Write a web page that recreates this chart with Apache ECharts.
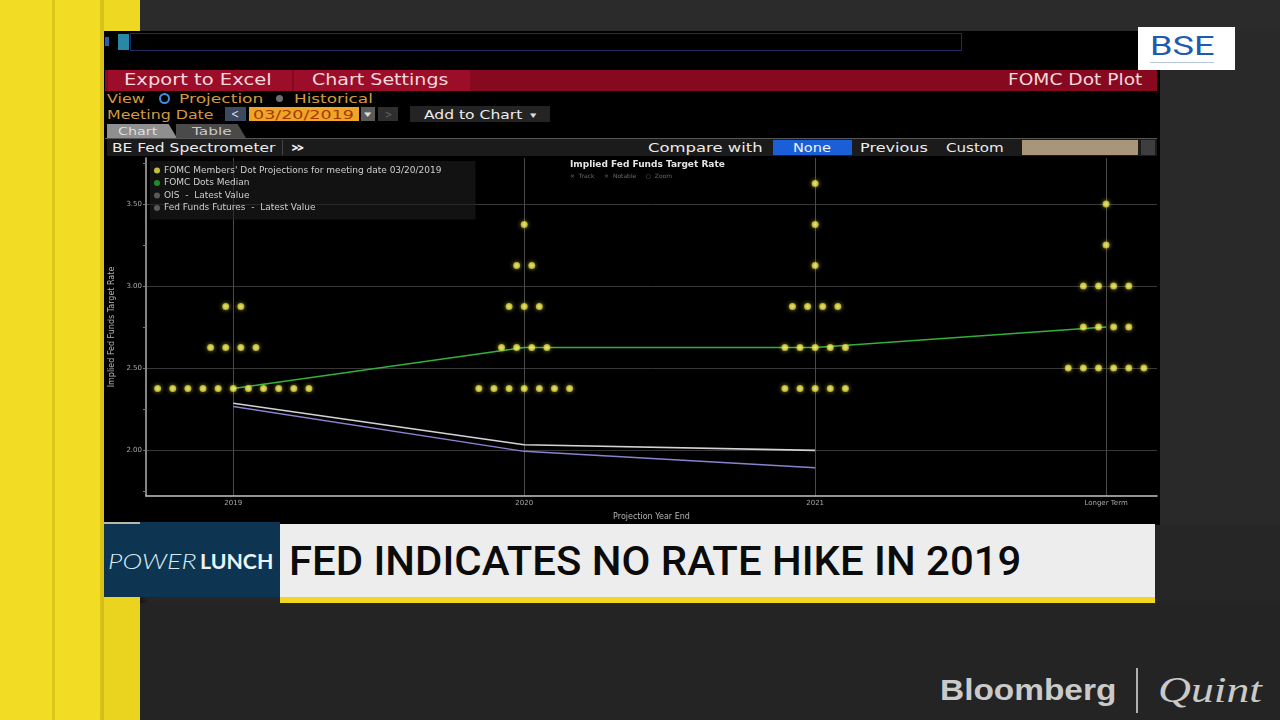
<!DOCTYPE html>
<html><head><meta charset="utf-8">
<script src="https://cdn.jsdelivr.net/npm/echarts@6/dist/echarts.min.js"></script>
<style>
html,body{margin:0;padding:0;width:1280px;height:720px;overflow:hidden;background:#262626;font-family:"DejaVu Sans",sans-serif;}
.r{position:absolute;}
.t{position:absolute;white-space:nowrap;transform-origin:0 50%;line-height:1;}
#chart{position:absolute;left:105px;top:156px;width:1055px;height:369px;background:#000;z-index:10;}
</style></head><body>
<div id="chart"></div>
<script>
// ---------------- DATA ----------------
const categories = ['2019', '2020', '2021', 'Longer Term'];
const rates2019 = [2.375, 2.625, 2.875];
const counts2019 = [11, 4, 2];
const rates2020 = [2.375, 2.625, 2.875, 3.125, 3.375];
const counts2020 = [7, 4, 3, 2, 1];
const rates2021 = [2.375, 2.625, 2.875, 3.125, 3.375, 3.625];
const counts2021 = [5, 5, 4, 1, 1, 1];
const ratesLonger = [2.5, 2.75, 3.0, 3.25, 3.5];
const countsLonger = [6, 4, 4, 1, 1];
const medianRates = [2.375, 2.625, 2.625, 2.75];
const oisRates = [2.285, 2.032, 1.998];
const futuresRates = [2.266, 1.992, 1.892];
const yLabelValues = [2.0, 2.5, 3.0, 3.5];
const yMinorTickValues = [1.75, 2.0, 2.25, 2.5, 2.75, 3.0, 3.25, 3.5, 3.75];
const xTickValues = [0, 1, 2, 3];

const dotsName = "FOMC Members' Dot Projections for meeting date 03/20/2019";
const medianName = 'FOMC Dots Median';
const oisName = 'OIS  -  Latest Value';
const futName = 'Fed Funds Futures  -  Latest Value';

// ---------------- FRAME (HTML chrome) ----------------
const FONT = '"DejaVu Sans", sans-serif';
function R(x, y, w, h, bg, extra) {
  const d = document.createElement('div');
  d.className = 'r';
  d.style.left = x + 'px'; d.style.top = y + 'px';
  d.style.width = w + 'px'; d.style.height = h + 'px';
  d.style.background = bg;
  if (extra) Object.assign(d.style, extra);
  document.body.appendChild(d);
  return d;
}
function T(txt, x, yc, w, size, color, o) {
  o = o || {};
  const d = document.createElement('div');
  d.className = 't';
  d.textContent = txt;
  d.style.fontSize = size + 'px';
  d.style.color = color;
  d.style.fontFamily = o.family || FONT;
  if (o.weight) d.style.fontWeight = o.weight;
  if (o.italic) d.style.fontStyle = 'italic';
  document.body.appendChild(d);
  const h = d.offsetHeight, ww = d.offsetWidth;
  d.style.left = x + 'px';
  d.style.top = (yc - h / 2) + 'px';
  if (w) d.style.transform = 'scaleX(' + (w / ww) + ')';
  return d;
}

// yellow side bands
R(0, 0, 104, 720, '#f3dd24');
R(52, 0, 3, 720, '#dcc61c');
R(100, 0, 5, 720, '#d9c31a');
R(104, 0, 36, 31, '#efd822');
R(104, 597, 36, 123, '#ead41f', {boxShadow: '4px 0 6px rgba(0,0,0,0.5)'});
// dark surroundings
R(140, 0, 1140, 31, '#2b2b2b');
R(1160, 31, 120, 494, '#292929');
R(140, 603, 1140, 117, '#242424');
// terminal
R(104, 31, 1056, 494, '#000');
R(130, 33, 830, 16, 'transparent', {border: '1px solid #1d2d62'});
R(118, 34, 11, 16, '#2a87a6');
R(105, 37, 4, 9, '#2a5fa0');
// red toolbar
R(105, 70, 1052, 21, '#870920');
R(108, 70, 184, 21, '#9c0d29');
R(294, 70, 176, 21, '#9c0d29');
T('Export to Excel', 124, 80.5, 147, 15, '#f3d8dc');
T('Chart Settings', 312, 80.5, 137, 15, '#f3d8dc');
T('FOMC Dot Plot', 1008, 80.5, 134, 15, '#f3d8dc');
// view row
T('View', 107, 98.5, 38, 13, '#d49a40');
R(159, 93, 7, 7, 'transparent', {border: '2px solid #3b8fe6', borderRadius: '50%'});
T('Projection', 179, 98.5, 84, 13, '#d49a40');
R(276, 95, 7, 7, '#6d6d6d', {borderRadius: '50%'});
T('Historical', 294, 98.5, 79, 13, '#d49a40');
// meeting date row
T('Meeting Date', 107, 114.5, 107, 13, '#d49a40');
R(225, 107, 21, 14, '#3b4a5e');
T('<', 231, 114, 8, 12, '#d8dde6');
R(249, 107, 110, 14, '#f0a527');
T('03/20/2019', 253, 114.5, 101, 13, '#a23a06');
R(361, 107, 14, 14, '#5a5a5a');
T('▾', 364, 114, 8, 9, '#ddd');
R(378, 107, 20, 14, '#2f2f2f');
T('>', 385, 114, 7, 11, '#666');
R(410, 106, 140, 16, '#242424');
T('Add to Chart', 424, 114.5, 98, 13, '#ececec');
T('▾', 530, 115, 7, 9, '#ddd');
// tabs
R(107, 124, 70, 14, '#8f8f8f', {clipPath: 'polygon(0 0, 88% 0, 100% 100%, 0 100%)'});
R(176, 124, 70, 14, '#4a4a4a', {clipPath: 'polygon(0 0, 88% 0, 100% 100%, 0 100%)'});
T('Chart', 118, 131.5, 39, 11, '#dedede');
T('Table', 192, 131.5, 39, 11, '#c8c8c8');
R(105, 138, 1052, 1, '#555');
// spectrometer row
R(107, 139, 1050, 17, '#1b1b1b');
T('BE Fed Spectrometer', 112, 147.5, 163, 13, '#ececec');
R(282, 140, 1, 15, '#444');
T('»', 290, 147, 15, 14, '#ececec', {weight: 'bold'});
T('Compare with', 648, 147.5, 115, 13, '#ececec');
R(773, 140, 79, 15, '#1a5fd8');
T('None', 793, 147.5, 38, 13, '#f4f4f4');
T('Previous', 860, 147.5, 68, 13, '#ececec');
T('Custom', 946, 147.5, 58, 13, '#ececec');
R(1022, 140, 116, 15, '#a8957a');
R(1141, 140, 14, 15, '#3e3e3e');

// lower third
R(104, 522, 176, 75, '#0d3552', {zIndex: 11});
R(104, 522, 36, 2, '#b8b8a8', {zIndex: 11});
T('POWER', 108, 560, 89, 21, '#d8ecf4', {italic: true, family: 'Lato, sans-serif', weight: 300}).style.zIndex = 12;
T('LUNCH', 200, 560, 73, 21, '#e8f4f8', {family: 'Lato, sans-serif', weight: 'bold'}).style.zIndex = 12;
R(280, 524, 875, 73, '#ededed', {zIndex: 11});
R(280, 597, 875, 6, '#f0d822', {zIndex: 11});
T('FED INDICATES NO RATE HIKE IN 2019', 289, 562, 732, 40, '#0b0b0b', {family: 'Roboto, sans-serif', weight: 500}).style.zIndex = 12;
// logos
R(1138, 27, 97, 43, '#ffffff');
T('BSE', 1150, 46, 64, 26, '#1d5bb0', {family: 'Roboto, sans-serif', weight: 400});
R(1150, 62, 64, 1, '#b8c8dc');
T('Bloomberg', 940, 690, 176, 30, '#cacaca', {family: '"Liberation Sans", sans-serif', weight: 'bold'});
R(1136, 668, 2, 45, '#b0b0b0');
T('Quint', 1158, 690, 104, 36, '#cacaca', {family: '"Liberation Serif", serif', italic: true});

// ---------------- CHART ----------------
const DOT_STEP = 0.052;
function dotPoints(catIndex, rates, counts) {
  const pts = [];
  rates.forEach((r, i) => {
    const n = counts[i];
    for (let j = 0; j < n; j++) pts.push([catIndex + (j - (n - 1) / 2) * DOT_STEP, r]);
  });
  return pts;
}
const dotData = [].concat(
  dotPoints(0, rates2019, counts2019),
  dotPoints(1, rates2020, counts2020),
  dotPoints(2, rates2021, counts2021),
  dotPoints(3, ratesLonger, countsLonger)
);

const chart = echarts.init(document.getElementById('chart'));
chart.setOption({
  backgroundColor: '#000',
  animation: false,
  textStyle: {fontFamily: 'DejaVu Sans'},
  title: {
    text: 'Implied Fed Funds Target Rate',
    subtext: '×  Track     ×  Notable     ○  Zoom',
    left: 465, top: 4, padding: 0, itemGap: 4,
    textStyle: {fontSize: 9, fontWeight: 'bold', color: '#e4e4e4'},
    subtextStyle: {fontSize: 6, color: '#6a6a6a'}
  },
  legend: {
    orient: 'vertical', left: 45, top: 5,
    itemWidth: 6, itemHeight: 6, itemGap: 3.5,
    padding: [5, 34, 7, 4],
    backgroundColor: 'rgba(30,30,30,0.6)',
    textStyle: {fontSize: 9, color: '#cfcfcf', padding: [0, 0, 0, -1]},
    data: [
      {name: dotsName, icon: 'circle', itemStyle: {color: '#f0ea4c'}},
      {name: medianName, icon: 'circle', itemStyle: {color: '#228a2a'}},
      {name: oisName, icon: 'circle', itemStyle: {color: '#5a5a5a'}},
      {name: futName, icon: 'circle', itemStyle: {color: '#5a5a5a'}}
    ]
  },
  grid: {left: 41, right: 3, top: 2, bottom: 29, outerBoundsMode: 'none', containLabel: false},
  xAxis: {
    type: 'value', min: -0.3, max: 3.175,
    name: 'Projection Year End', nameLocation: 'middle', nameGap: 17,
    nameTextStyle: {fontSize: 8, color: '#b4b4b4'},
    axisLine: {onZero: false, lineStyle: {color: '#c4c4c4', width: 1.5}},
    axisTick: {show: false, customValues: xTickValues},
    axisLabel: {customValues: xTickValues, fontSize: 7, color: '#a8a8a8', margin: 4,
      formatter: v => categories[Math.round(v)]},
    splitLine: {show: true, lineStyle: {color: '#4a4a4a', width: 1}}
  },
  yAxis: [{
    type: 'value', min: 1.72, max: 3.78, position: 'left',
    name: 'Implied Fed Funds Target Rate', nameLocation: 'middle', nameGap: 30, nameRotate: 90,
    nameTextStyle: {fontSize: 8, color: '#b4b4b4'},
    axisLine: {show: true, onZero: false, lineStyle: {color: '#b0b0b0', width: 1.5}},
    axisTick: {show: true, length: 3, customValues: yLabelValues, lineStyle: {color: '#999'}},
    axisLabel: {customValues: yLabelValues, fontSize: 7, color: '#a8a8a8', margin: 4,
      formatter: v => v.toFixed(2)},
    splitLine: {show: true, lineStyle: {color: '#383838', width: 1}}
  }, {
    type: 'value', min: 1.72, max: 3.78, position: 'left', offset: 0,
    axisLine: {show: false, onZero: false},
    axisTick: {show: true, length: 3, customValues: yMinorTickValues, lineStyle: {color: '#777'}},
    axisLabel: {show: false},
    splitLine: {show: false}
  }],
  series: [
    {
      name: oisName, type: 'line', z: 2, symbol: 'none',
      data: oisRates.map((v, i) => [i, v]),
      lineStyle: {color: '#d4d4d4', width: 1.6}, itemStyle: {color: '#d4d4d4'}
    },
    {
      name: futName, type: 'line', z: 2, symbol: 'none',
      data: futuresRates.map((v, i) => [i, v]),
      lineStyle: {color: '#8783d0', width: 1.5}, itemStyle: {color: '#8783d0'}
    },
    {
      name: medianName, type: 'line', z: 3, symbol: 'none',
      data: medianRates.map((v, i) => [i, v]),
      lineStyle: {color: '#33b03a', width: 1.6}, itemStyle: {color: '#33b03a'}
    },
    {
      name: dotsName, type: 'scatter', z: 5, symbol: 'circle', symbolSize: 7,
      data: dotData,
      itemStyle: {
        color: new echarts.graphic.RadialGradient(0.5, 0.5, 0.5, [
          {offset: 0, color: '#fdfbc0'}, {offset: 0.6, color: '#f2ec48'}, {offset: 1, color: '#c8c030'}
        ]),
        shadowColor: 'rgba(240,235,80,0.7)', shadowBlur: 4
      }
    }
  ]
});
</script>
</body></html>
